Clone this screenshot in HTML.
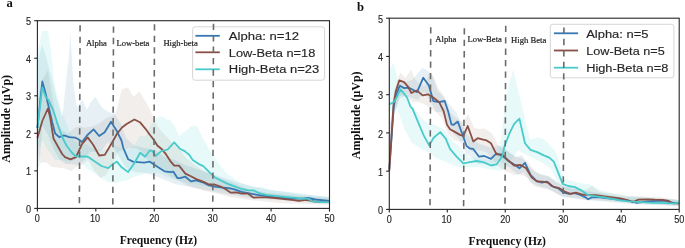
<!DOCTYPE html>
<html><head><meta charset="utf-8"><style>
html,body{margin:0;padding:0;background:#fff;}
body{width:685px;height:248px;overflow:hidden;}
svg{display:block;will-change:transform;}
</style></head><body>
<svg width="685" height="248" viewBox="0 0 685 248">
<rect width="685" height="248" fill="#fff"/>
<polygon points="37.4,100.0 42.3,80.0 47.9,70.0 52.0,95.0 56.0,118.0 62.0,130.0 68.0,134.0 74.0,128.0 80.0,126.0 84.0,127.7 92.9,126.6 99.5,123.2 106.2,118.0 112.8,116.0 116.4,111.4 121.6,89.4 127.9,87.3 133.2,96.8 139.4,91.5 144.7,99.9 149.9,109.4 153.1,116.7 157.3,126.1 162.0,132.0 168.0,138.0 174.0,145.0 180.0,150.0 186.0,158.0 195.0,165.0 205.0,172.0 215.0,176.0 230.0,182.0 250.0,190.0 270.0,193.0 300.0,196.0 329.3,198.0 329.3,205.0 280.0,203.0 250.0,200.0 230.0,197.0 215.0,193.0 205.0,191.0 195.0,188.0 186.0,185.0 178.0,180.0 170.0,176.0 162.0,170.0 155.0,166.0 148.0,160.0 142.0,152.0 136.0,148.0 130.0,148.0 124.0,150.0 118.0,152.0 112.0,165.0 106.0,175.0 100.0,178.0 94.0,170.0 88.0,160.0 82.0,165.0 77.0,166.6 71.4,171.0 65.0,168.6 58.6,167.7 51.4,166.8 45.9,162.3 40.0,163.0 37.4,150.0" fill="#947064" fill-opacity="0.12" stroke="none"/>
<polygon points="37.4,62.0 42.3,45.0 47.0,60.0 52.0,80.0 57.0,100.0 62.1,118.0 63.1,110.0 65.1,90.2 67.1,72.1 68.5,60.0 70.3,33.0 72.1,60.0 73.1,80.2 75.2,98.3 77.2,108.0 79.5,104.0 82.6,99.5 86.8,109.4 91.0,102.0 95.3,96.7 102.3,108.0 109.4,112.2 115.0,114.4 120.6,123.2 126.0,138.0 135.0,146.0 145.0,148.0 155.0,150.0 165.0,157.0 175.0,160.0 185.0,165.0 200.0,170.0 215.0,175.0 230.0,180.0 250.0,186.0 270.0,190.0 300.0,194.0 329.3,197.0 329.3,204.0 280.0,200.0 250.0,198.0 220.0,193.0 200.0,189.0 185.0,186.0 175.0,184.0 165.0,180.0 155.0,176.0 145.0,173.0 135.0,172.0 126.0,168.0 120.0,158.0 114.0,148.0 108.0,142.0 102.0,150.0 96.0,152.0 90.0,152.0 84.0,160.0 78.0,165.0 72.0,164.0 66.0,164.0 60.0,160.0 54.0,150.0 48.0,135.0 42.3,125.0 41.0,145.0 39.3,166.0 37.4,168.0" fill="#4b93b8" fill-opacity="0.14" stroke="none"/>
<polygon points="37.4,52.0 40.2,40.0 41.8,31.0 48.1,31.0 50.8,50.0 53.7,77.7 57.0,95.0 62.0,112.0 68.0,128.0 74.0,140.0 80.0,145.0 86.0,144.0 92.0,148.0 98.0,150.0 104.0,150.0 110.0,148.0 116.0,146.0 122.0,148.0 128.0,150.0 134.0,146.0 140.0,136.0 146.0,136.0 150.0,126.0 155.0,119.0 162.1,116.1 166.1,119.2 170.1,120.2 174.2,125.2 179.2,136.3 185.2,131.3 192.3,125.2 197.3,126.2 201.4,135.3 206.4,144.4 209.4,150.0 212.7,155.0 220.4,166.0 227.1,173.8 240.4,182.7 255.0,187.0 262.0,187.0 270.0,190.0 290.0,192.0 310.0,195.0 329.3,197.0 329.3,202.0 290.0,199.0 260.0,196.0 240.0,193.0 220.0,190.0 205.0,186.0 190.0,183.8 175.0,180.0 165.0,176.0 157.7,172.7 148.8,172.7 133.3,177.1 128.0,180.0 122.0,181.0 115.0,183.0 108.0,182.0 101.0,178.0 95.8,174.0 87.0,168.8 78.1,157.7 70.0,162.0 62.0,160.0 55.0,160.0 48.0,150.0 42.3,140.0 37.4,150.0" fill="#48d1cc" fill-opacity="0.125" stroke="none"/>
<polyline points="37.4,128.0 42.3,81.5 45.2,92.0 48.5,106.0 52.1,121.8 55.2,133.5 59.4,137.2 63.9,135.4 69.4,137.2 74.9,137.6 78.0,139.0 82.0,142.0 87.4,135.0 93.6,129.4 99.2,136.0 104.7,132.3 111.0,121.8 116.5,130.5 121.5,140.5 123.3,148.0 128.1,159.2 133.0,161.6 137.8,162.1 144.3,162.7 149.6,161.6 153.2,164.0 158.1,167.3 164.5,171.3 171.0,172.1 173.2,171.6 177.6,178.2 180.0,178.1 185.4,176.7 190.9,181.4 196.3,180.3 203.6,182.7 209.0,185.4 216.3,186.9 223.6,187.6 229.0,188.1 234.4,189.4 241.7,191.8 248.1,193.1 257.2,194.9 266.3,196.2 275.4,197.3 284.4,198.0 293.5,198.6 302.6,198.6 308.0,198.0 315.3,199.5 324.4,200.4 329.3,200.9" fill="none" stroke="#3778b4" stroke-width="1.8" stroke-linejoin="round" stroke-linecap="butt"/>
<polyline points="37.4,138.0 42.3,121.0 47.9,108.5 50.1,117.0 53.5,138.5 58.2,147.0 62.2,154.0 65.0,157.1 70.5,159.3 76.0,157.1 81.8,144.5 87.7,137.4 93.0,144.5 99.2,155.5 104.8,154.9 111.7,143.2 117.0,133.8 122.0,127.5 126.6,124.0 134.4,119.5 139.9,122.2 145.5,128.8 150.0,135.0 153.2,139.0 157.3,145.5 161.3,148.7 166.1,154.4 170.2,160.8 174.2,165.6 179.0,165.6 185.4,173.6 190.9,176.3 196.3,179.1 203.6,181.8 209.0,184.5 214.5,184.5 219.9,186.3 225.4,189.0 230.8,192.7 236.3,192.3 241.7,193.6 248.1,193.7 253.6,197.7 259.0,197.3 266.3,197.3 275.4,198.0 284.4,199.1 291.7,199.8 299.0,200.9 306.2,199.8 313.5,201.3 320.7,202.2 329.3,202.2" fill="none" stroke="#8a5046" stroke-width="1.8" stroke-linejoin="round" stroke-linecap="butt"/>
<polyline points="37.4,128.0 42.3,87.5 45.5,96.6 48.5,100.0 53.1,110.0 58.2,126.1 62.2,137.0 66.2,145.0 71.3,152.0 75.3,156.0 80.4,156.5 86.0,156.4 88.2,157.1 94.9,161.5 101.5,166.0 108.2,168.2 112.0,164.8 116.8,161.6 121.7,167.3 128.1,172.1 133.8,164.0 140.2,152.7 145.1,156.8 150.0,150.3 152.4,151.1 155.6,156.0 161.3,151.1 167.7,149.5 174.2,142.3 179.8,148.7 184.7,151.1 189.4,155.0 192.7,160.0 198.1,163.6 203.6,166.4 209.0,171.8 214.5,177.2 219.9,180.0 227.2,183.6 234.4,186.3 241.7,189.0 248.1,190.4 253.6,190.4 259.0,193.1 266.3,194.9 275.4,195.9 284.4,196.8 293.5,197.7 302.6,198.6 308.0,198.6 311.7,201.3 320.7,202.2 329.3,202.2" fill="none" stroke="#49cbcb" stroke-width="1.8" stroke-linejoin="round" stroke-linecap="butt"/>
<polygon points="389.3,140.0 394.0,95.0 398.1,77.4 400.5,72.6 405.4,78.2 411.0,69.4 415.0,79.0 420.0,84.0 425.0,86.0 428.9,73.3 433.3,76.6 438.0,88.0 444.0,96.0 450.0,112.0 456.0,118.0 462.0,122.0 468.4,114.0 474.0,128.0 480.0,129.0 484.5,128.5 491.7,133.3 499.0,146.6 504.0,148.0 510.0,153.0 516.0,157.0 522.0,158.0 528.0,162.0 534.0,170.0 540.0,174.0 548.0,176.0 556.0,182.0 564.0,186.0 572.0,188.0 585.0,190.0 592.1,186.0 600.0,192.0 630.0,196.0 660.0,197.0 679.0,200.0 679.0,206.0 650.0,204.0 620.0,202.0 590.0,200.0 575.0,198.0 566.0,197.0 558.0,194.0 550.0,190.0 542.0,188.0 534.0,186.0 528.0,178.0 520.0,174.0 514.0,175.0 508.0,172.0 502.6,169.6 496.6,165.0 492.0,158.0 486.0,152.0 478.0,150.0 472.0,152.0 466.0,140.0 460.0,142.0 454.0,140.0 448.0,134.0 442.0,118.0 436.0,112.0 430.0,108.0 424.0,104.0 418.0,102.0 412.0,102.0 406.0,95.0 400.0,96.0 398.0,102.0 394.0,116.0 391.5,132.0 389.3,180.0" fill="#947064" fill-opacity="0.12" stroke="none"/>
<polygon points="389.3,130.0 394.0,90.0 400.0,80.0 406.0,82.0 412.0,80.0 418.3,72.6 422.3,67.7 426.6,70.0 432.2,74.4 437.7,91.0 444.4,97.7 451.0,106.5 456.0,112.0 462.0,124.0 468.0,136.0 474.0,140.0 480.0,144.0 486.0,146.0 492.0,148.0 498.0,145.0 504.0,148.0 510.0,153.0 516.0,157.0 522.0,155.0 528.0,166.0 535.0,172.0 542.0,175.0 548.0,176.0 555.0,180.0 562.0,186.0 570.0,188.0 580.0,190.0 600.0,193.0 620.0,197.0 650.0,198.0 679.0,200.0 679.0,206.0 630.0,204.0 600.0,201.0 585.0,200.0 572.0,198.0 562.0,197.0 554.0,192.0 546.0,188.0 538.0,186.0 530.0,182.0 524.0,172.0 518.0,175.0 510.0,168.0 504.0,164.0 498.0,160.0 492.0,166.0 486.0,164.0 478.0,164.0 472.0,157.0 466.0,154.0 460.0,140.0 454.0,134.0 448.0,124.0 442.0,112.0 436.0,112.0 430.0,100.0 424.0,92.0 418.0,100.0 412.0,98.0 406.0,96.0 400.0,98.0 394.0,114.0 391.0,140.0 389.3,182.0" fill="#4b93b8" fill-opacity="0.14" stroke="none"/>
<polygon points="389.3,70.0 393.3,62.9 395.7,71.0 398.1,82.3 401.0,88.0 408.1,99.5 414.0,108.0 420.2,116.5 426.0,122.0 434.5,124.8 444.2,129.7 451.5,139.4 458.7,146.6 468.4,156.3 480.0,158.7 490.0,160.0 497.0,156.0 501.0,140.0 505.0,105.0 509.0,84.0 513.3,69.5 518.0,90.0 523.0,110.0 527.0,128.0 530.0,139.7 538.5,137.3 544.5,139.7 549.4,144.5 554.2,149.4 557.8,156.6 560.2,166.3 563.9,178.4 571.1,180.8 580.8,183.2 590.0,184.4 600.0,190.0 620.0,195.0 650.0,198.0 679.0,200.0 679.0,204.0 630.0,202.0 600.0,199.0 585.0,196.0 575.0,193.0 566.0,190.0 561.5,186.9 557.8,182.0 554.2,174.8 550.6,168.7 544.5,163.9 537.3,160.2 530.0,156.6 524.4,153.9 518.3,150.0 512.3,158.7 505.0,168.4 500.2,170.8 490.5,169.6 480.0,167.2 468.4,167.2 458.7,167.2 451.5,164.8 444.2,161.1 437.0,158.7 428.4,152.3 419.9,148.0 411.4,142.4 403.0,125.4 397.3,108.5 394.0,107.0 389.3,112.0" fill="#48d1cc" fill-opacity="0.125" stroke="none"/>
<polyline points="389.3,169.0 393.8,106.0 396.3,94.2 399.9,85.7 404.1,88.1 408.4,87.5 412.0,89.3 417.0,92.1 423.3,77.7 428.9,85.5 433.3,101.0 438.8,102.1 444.7,101.0 448.3,112.0 451.4,124.4 453.3,124.9 457.8,121.6 462.2,133.8 466.6,146.0 469.9,148.5 473.3,148.9 478.8,156.6 484.3,156.0 491.0,158.8 496.5,153.3 503.2,156.6 508.7,161.0 514.2,164.4 519.4,168.3 525.0,162.8 530.5,174.9 536.0,180.5 541.6,182.7 547.1,181.6 551.6,186.0 558.2,188.2 563.7,192.7 569.3,193.8 574.8,193.1 580.4,194.9 585.0,197.1 588.1,199.3 592.1,197.3 600.2,197.3 608.2,198.3 616.3,199.3 624.4,200.3 632.4,201.3 636.5,202.9 640.5,202.3 648.5,201.3 656.6,200.9 664.7,200.9 670.7,202.3 679.0,203.3" fill="none" stroke="#3778b4" stroke-width="1.8" stroke-linejoin="round" stroke-linecap="butt"/>
<polyline points="389.3,171.0 393.6,104.0 395.7,91.8 399.3,80.3 404.1,82.1 407.8,86.3 411.4,93.0 415.0,91.2 417.0,90.6 422.6,95.4 428.1,94.3 433.6,97.7 439.2,102.1 441.4,106.6 443.6,111.0 446.9,124.4 450.0,129.3 454.4,131.6 460.0,134.9 463.3,136.0 467.7,126.0 473.3,141.5 477.7,138.2 482.1,139.3 486.6,140.4 491.0,143.3 496.5,154.4 502.1,154.4 507.6,160.0 514.2,165.5 520.5,165.0 526.1,168.3 531.6,177.2 537.2,181.6 542.7,181.6 548.2,182.7 553.8,187.1 559.3,188.2 564.8,191.6 570.4,193.8 575.9,192.7 581.5,194.4 588.1,195.2 596.1,195.2 604.2,196.3 612.3,197.3 620.3,198.3 628.4,200.3 632.4,202.3 638.5,199.7 646.5,199.3 654.6,199.7 662.7,199.9 668.7,200.9 672.7,203.3 679.0,203.3" fill="none" stroke="#8a5046" stroke-width="1.8" stroke-linejoin="round" stroke-linecap="butt"/>
<polyline points="389.3,104.5 394.5,101.5 397.0,96.6 400.5,89.3 404.1,93.6 407.2,97.8 410.4,106.5 412.6,108.9 418.1,122.2 423.7,135.4 429.2,145.4 433.6,137.7 440.3,132.1 445.8,138.8 450.0,148.9 456.6,156.6 463.3,163.3 469.9,162.2 476.6,161.0 483.2,162.2 491.0,165.5 496.5,164.4 502.1,156.6 504.5,146.0 509.8,132.7 514.2,123.8 519.4,118.6 525.0,143.2 530.5,149.9 537.2,152.1 543.8,155.4 549.3,157.6 553.8,161.6 558.2,172.7 562.6,183.8 568.2,186.0 574.8,187.1 581.5,190.4 584.0,192.2 588.1,195.2 596.1,196.3 604.2,197.3 612.3,198.9 620.3,200.3 628.4,201.3 636.5,201.9 644.5,202.3 652.6,202.9 660.6,202.9 668.7,203.3 674.8,203.3 679.0,202.3" fill="none" stroke="#49cbcb" stroke-width="1.8" stroke-linejoin="round" stroke-linecap="butt"/>
<g font-family="Liberation Sans, sans-serif" font-size="10.1" fill="#262626" stroke="#262626" stroke-width="0.15">
<rect x="37.4" y="20.7" width="292.1" height="187.70000000000002" fill="none" stroke="#262626" stroke-width="1.1"/>
<line x1="34.199999999999996" y1="208.40" x2="37.4" y2="208.40" stroke="#262626" stroke-width="1.1"/>
<text transform="translate(31.0,212.70) scale(0.9,1)" text-anchor="end">0</text>
<line x1="34.199999999999996" y1="170.86" x2="37.4" y2="170.86" stroke="#262626" stroke-width="1.1"/>
<text transform="translate(31.0,175.16) scale(0.9,1)" text-anchor="end">1</text>
<line x1="34.199999999999996" y1="133.32" x2="37.4" y2="133.32" stroke="#262626" stroke-width="1.1"/>
<text transform="translate(31.0,137.62) scale(0.9,1)" text-anchor="end">2</text>
<line x1="34.199999999999996" y1="95.78" x2="37.4" y2="95.78" stroke="#262626" stroke-width="1.1"/>
<text transform="translate(31.0,100.08) scale(0.9,1)" text-anchor="end">3</text>
<line x1="34.199999999999996" y1="58.24" x2="37.4" y2="58.24" stroke="#262626" stroke-width="1.1"/>
<text transform="translate(31.0,62.54) scale(0.9,1)" text-anchor="end">4</text>
<line x1="34.199999999999996" y1="20.70" x2="37.4" y2="20.70" stroke="#262626" stroke-width="1.1"/>
<text transform="translate(31.0,25.00) scale(0.9,1)" text-anchor="end">5</text>
<line x1="37.40" y1="208.4" x2="37.40" y2="211.6" stroke="#262626" stroke-width="1.1"/>
<text transform="translate(37.40,221.9) scale(0.9,1)" text-anchor="middle">0</text>
<line x1="95.82" y1="208.4" x2="95.82" y2="211.6" stroke="#262626" stroke-width="1.1"/>
<text transform="translate(95.02,221.9) scale(0.9,1)" text-anchor="middle">10</text>
<line x1="154.24" y1="208.4" x2="154.24" y2="211.6" stroke="#262626" stroke-width="1.1"/>
<text transform="translate(154.24,221.9) scale(0.9,1)" text-anchor="middle">20</text>
<line x1="212.66" y1="208.4" x2="212.66" y2="211.6" stroke="#262626" stroke-width="1.1"/>
<text transform="translate(212.66,221.9) scale(0.9,1)" text-anchor="middle">30</text>
<line x1="271.08" y1="208.4" x2="271.08" y2="211.6" stroke="#262626" stroke-width="1.1"/>
<text transform="translate(271.08,221.9) scale(0.9,1)" text-anchor="middle">40</text>
<line x1="329.50" y1="208.4" x2="329.50" y2="211.6" stroke="#262626" stroke-width="1.1"/>
<text transform="translate(329.50,221.9) scale(0.9,1)" text-anchor="middle">50</text>
<rect x="389.3" y="18.2" width="289.90000000000003" height="191.20000000000002" fill="none" stroke="#262626" stroke-width="1.1"/>
<line x1="386.1" y1="209.40" x2="389.3" y2="209.40" stroke="#262626" stroke-width="1.1"/>
<text transform="translate(383.0,214.10) scale(0.9,1)" text-anchor="end">0</text>
<line x1="386.1" y1="171.16" x2="389.3" y2="171.16" stroke="#262626" stroke-width="1.1"/>
<text transform="translate(383.0,175.86) scale(0.9,1)" text-anchor="end">1</text>
<line x1="386.1" y1="132.92" x2="389.3" y2="132.92" stroke="#262626" stroke-width="1.1"/>
<text transform="translate(383.0,137.62) scale(0.9,1)" text-anchor="end">2</text>
<line x1="386.1" y1="94.68" x2="389.3" y2="94.68" stroke="#262626" stroke-width="1.1"/>
<text transform="translate(383.0,99.38) scale(0.9,1)" text-anchor="end">3</text>
<line x1="386.1" y1="56.44" x2="389.3" y2="56.44" stroke="#262626" stroke-width="1.1"/>
<text transform="translate(383.0,61.14) scale(0.9,1)" text-anchor="end">4</text>
<line x1="386.1" y1="18.20" x2="389.3" y2="18.20" stroke="#262626" stroke-width="1.1"/>
<text transform="translate(383.0,22.90) scale(0.9,1)" text-anchor="end">5</text>
<line x1="389.30" y1="209.4" x2="389.30" y2="212.6" stroke="#262626" stroke-width="1.1"/>
<text transform="translate(389.30,223.2) scale(0.9,1)" text-anchor="middle">0</text>
<line x1="447.28" y1="209.4" x2="447.28" y2="212.6" stroke="#262626" stroke-width="1.1"/>
<text transform="translate(446.48,223.2) scale(0.9,1)" text-anchor="middle">10</text>
<line x1="505.26" y1="209.4" x2="505.26" y2="212.6" stroke="#262626" stroke-width="1.1"/>
<text transform="translate(505.26,223.2) scale(0.9,1)" text-anchor="middle">20</text>
<line x1="563.24" y1="209.4" x2="563.24" y2="212.6" stroke="#262626" stroke-width="1.1"/>
<text transform="translate(563.24,223.2) scale(0.9,1)" text-anchor="middle">30</text>
<line x1="621.22" y1="209.4" x2="621.22" y2="212.6" stroke="#262626" stroke-width="1.1"/>
<text transform="translate(621.22,223.2) scale(0.9,1)" text-anchor="middle">40</text>
<line x1="679.20" y1="209.4" x2="679.20" y2="212.6" stroke="#262626" stroke-width="1.1"/>
<text transform="translate(679.20,223.2) scale(0.9,1)" text-anchor="middle">50</text>
</g>
<g font-family="Liberation Sans, sans-serif" font-size="11.7" fill="#262626" stroke="#262626" stroke-width="0.15">
<rect x="192.6" y="26.8" width="132.00000000000003" height="53.400000000000006" rx="2.5" ry="2.5" fill="#ffffff" fill-opacity="0.8" stroke="#d6d6d6" stroke-width="1"/>
<line x1="195.4" y1="35.8" x2="219.8" y2="35.8" stroke="#3778b4" stroke-width="1.8"/>
<text x="228.8" y="40.2" textLength="70.3" lengthAdjust="spacingAndGlyphs">Alpha: n=12</text>
<line x1="195.4" y1="52.3" x2="219.8" y2="52.3" stroke="#8a5046" stroke-width="1.8"/>
<text x="228.8" y="56.6" textLength="86.5" lengthAdjust="spacingAndGlyphs">Low-Beta n=18</text>
<line x1="195.4" y1="69.3" x2="219.8" y2="69.3" stroke="#49cbcb" stroke-width="1.8"/>
<text x="228.8" y="73.0" textLength="90.4" lengthAdjust="spacingAndGlyphs">High-Beta n=23</text>
<rect x="550.3" y="24.3" width="123.60000000000002" height="53.5" rx="2.5" ry="2.5" fill="#ffffff" fill-opacity="0.8" stroke="#d6d6d6" stroke-width="1"/>
<line x1="553.9" y1="33.3" x2="578.1" y2="33.3" stroke="#3778b4" stroke-width="1.8"/>
<text x="586.2" y="37.9" textLength="62.2" lengthAdjust="spacingAndGlyphs">Alpha: n=5</text>
<line x1="553.9" y1="50.5" x2="578.1" y2="50.5" stroke="#8a5046" stroke-width="1.8"/>
<text x="586.2" y="54.8" textLength="78.5" lengthAdjust="spacingAndGlyphs">Low-Beta n=5</text>
<line x1="553.9" y1="67.7" x2="578.1" y2="67.7" stroke="#49cbcb" stroke-width="1.8"/>
<text x="586.2" y="71.9" textLength="82.1" lengthAdjust="spacingAndGlyphs">High-Beta n=8</text>
</g>
<line x1="80.10000000000001" y1="25.2" x2="79.4" y2="203.25" stroke="#6b6b6b" stroke-width="1.6" stroke-dasharray="6.3 5.15"/>
<line x1="113.5" y1="26.4" x2="112.8" y2="204.45" stroke="#6b6b6b" stroke-width="1.6" stroke-dasharray="6.3 5.15"/>
<line x1="154.5" y1="24.3" x2="153.8" y2="202.35" stroke="#6b6b6b" stroke-width="1.6" stroke-dasharray="6.3 5.15"/>
<line x1="213.5" y1="23.7" x2="212.8" y2="201.75" stroke="#6b6b6b" stroke-width="1.6" stroke-dasharray="6.3 5.15"/>
<g font-family="Liberation Serif, serif" font-size="8.6" fill="#1a1a1a" stroke="#1a1a1a" stroke-width="0.18"><text x="85.9" y="45.8">Alpha</text><text x="116.5" y="45.8">Low-beta</text><text x="163.4" y="45.8">High-beta</text></g>
<line x1="430.75" y1="27.2" x2="430.0" y2="205.25" stroke="#6b6b6b" stroke-width="1.6" stroke-dasharray="6.3 5.15"/>
<line x1="464.35" y1="28.2" x2="463.6" y2="206.25" stroke="#6b6b6b" stroke-width="1.6" stroke-dasharray="6.3 5.15"/>
<line x1="505.75" y1="25.7" x2="505.0" y2="203.75" stroke="#6b6b6b" stroke-width="1.6" stroke-dasharray="6.3 5.15"/>
<line x1="563.95" y1="27.4" x2="563.2" y2="205.45" stroke="#6b6b6b" stroke-width="1.6" stroke-dasharray="6.3 5.15"/>
<g font-family="Liberation Serif, serif" font-size="8.65" fill="#1a1a1a" stroke="#1a1a1a" stroke-width="0.18"><text x="435.3" y="42.3">Alpha</text><text x="467.4" y="42.2">Low-Beta</text><text x="511" y="43.0">High Beta</text></g>
<g font-family="Liberation Serif, serif" font-weight="bold" fill="#111">
<text x="158.4" y="244" font-size="11.6" text-anchor="middle">Frequency (Hz)</text>
<text x="507.3" y="244.7" font-size="11.6" text-anchor="middle">Frequency (Hz)</text>
<text transform="translate(9.8,118.8) rotate(-90)" font-size="12.0" text-anchor="middle">Amplitude (μVp)</text>
<text transform="translate(360.2,115.3) rotate(-90)" font-size="12.0" text-anchor="middle">Amplitude (μVp)</text>
<text x="6.6" y="6.9" font-size="12.6">a</text>
<text x="356.9" y="11.2" font-size="12.6">b</text>
</g>
</svg>
</body></html>
